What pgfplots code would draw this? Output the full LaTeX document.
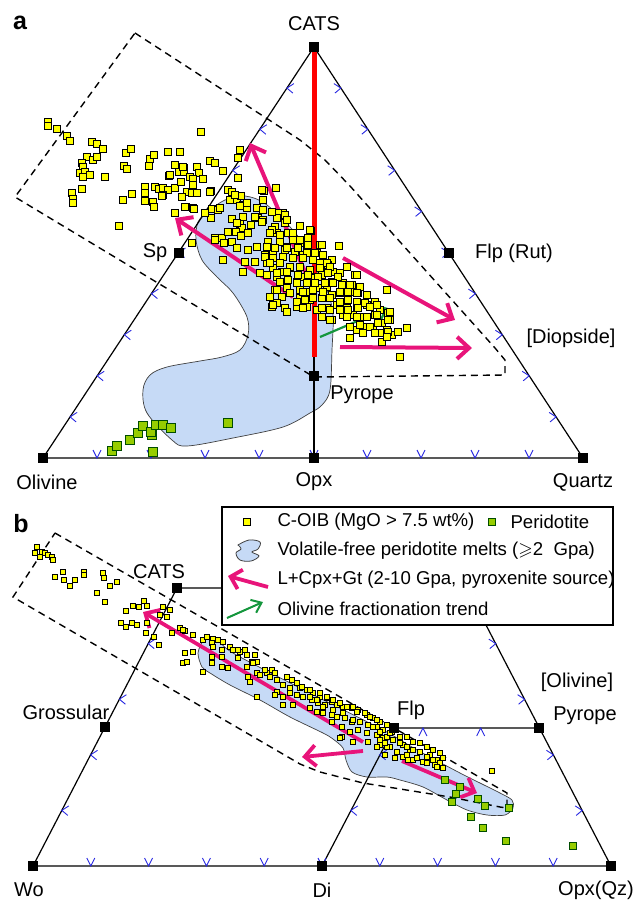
\documentclass[border=0pt]{standalone}
\usepackage{fontspec}
\setmainfont{Liberation Sans}
\usepackage{amssymb}
\usepackage{pgfplots}
\pgfplotsset{compat=1.18}
\usetikzlibrary{arrows.meta}

\definecolor{melt}{RGB}{198,218,246}
\definecolor{pinkarrow}{RGB}{232,20,122}
\definecolor{olgreen}{RGB}{20,150,60}
\definecolor{coib}{RGB}{255,255,0}
\definecolor{perid}{RGB}{150,205,0}
\definecolor{tickblue}{RGB}{40,40,225}

% small chevron ticks along the triangle sides
\pgfdeclareplotmark{tkdown}{\pgfpathmoveto{\pgfpoint{-4pt}{8pt}}\pgfpathlineto{\pgfpoint{0pt}{0pt}}\pgfpathlineto{\pgfpoint{4pt}{8pt}}\pgfusepathqstroke}
\pgfdeclareplotmark{tkup}{\pgfpathmoveto{\pgfpoint{-4pt}{-8pt}}\pgfpathlineto{\pgfpoint{0pt}{0pt}}\pgfpathlineto{\pgfpoint{4pt}{-8pt}}\pgfusepathqstroke}
\pgfdeclareplotmark{tkleft}{\pgfpathmoveto{\pgfpoint{7pt}{4.5pt}}\pgfpathlineto{\pgfpoint{0pt}{0pt}}\pgfpathlineto{\pgfpoint{6pt}{-5pt}}\pgfusepathqstroke}
\pgfdeclareplotmark{tkright}{\pgfpathmoveto{\pgfpoint{-7pt}{4.5pt}}\pgfpathlineto{\pgfpoint{0pt}{0pt}}\pgfpathlineto{\pgfpoint{-6pt}{-5pt}}\pgfusepathqstroke}

\newcommand\lab{\fontsize{20}{24}\selectfont}
\newcommand\leg{\fontsize{18.6}{22}\selectfont}
\newcommand\pan{\fontsize{25}{28}\selectfont\bfseries}

\begin{document}
\begin{tikzpicture}
\useasboundingbox (0,0) rectangle (638pt,900pt);
\begin{axis}[at={(0,0)}, anchor=south west, scale only axis,
  width=638pt, height=900pt, xmin=0, xmax=638, ymin=0, ymax=900,
  y dir=reverse, hide axis, clip=false]

%% ---------------- panel a ----------------
% volatile-free peridotite melt field
\addplot[smooth, tension=0.55, fill=melt, draw=black!75, line width=0.7pt] coordinates {
(207,212) (225,200) (245,196) (267,205) (297,235) (312,262) (327,290) (333,315)
(332,350) (330,390) (322,405) (310,413) (283,427) (233,438) (187,446) (172,440)
(147,413) (143,390) (150,375) (167,367) (200,361) (222,357) (240,350) (248,335)
(247,317) (233,293) (217,277) (202,260) (196,240) (198,222) (207,212)} -- cycle;

% dashed outline
\addplot[black, dashed, dash pattern=on 7pt off 5pt, line width=1.4pt] coordinates {
(135,33) (300,140) (325,160) (350,186) (495,348) (505,360) (505,375) (314,377) (15,197)} -- cycle;

% triangle
\addplot[black, line width=1.2pt] coordinates {(43,458) (314,47) (583,458)} -- cycle;
\addplot[black, line width=1.2pt] coordinates {(314,357) (314,458)};

% ticks
\addplot[only marks, mark=tkleft, tickblue, line width=0.9pt] coordinates {
(70.1,416.9) (97.2,375.8) (124.3,334.7) (151.4,293.6) (178.5,252.5)
(205.6,211.4) (232.7,170.3) (259.8,129.2) (286.9,88.1)};
\addplot[only marks, mark=tkright, tickblue, line width=0.9pt] coordinates {
(556.1,416.9) (529.2,375.8) (502.3,334.7) (475.4,293.6) (448.5,252.5)
(421.6,211.4) (394.7,170.3) (367.8,129.2) (340.9,88.1)};
\addplot[only marks, mark=tkdown, tickblue, line width=0.9pt] coordinates {
(97,458) (151,458) (205,458) (259,458) (314,458) (367,458) (421,458) (475,458) (529,458)};

% CATS--Pyrope join
\addplot[red, line width=5pt] coordinates {(314,47) (314,357)};

% peridotite
\addplot[only marks, mark=square*, mark size=4.5pt, mark options={fill=perid, draw=black!70!green, line width=0.7pt}] coordinates {
(112,451) (117,446) (130,440) (138,433) (143,426) (152,435) (151,432) (156,425)
(163,425) (171,428) (153,452) (228,423)};

% C-OIB
\addplot[only marks, mark=square*, mark size=3.4pt, mark options={fill=coib, draw=black, line width=0.7pt}] coordinates {
(48,122) (48,126) (57,129) (67,136) (70,141) (92,142) (97,144) (103,149)
(87,157) (93,160) (97,157) (82,163) (83,167) (80,173) (85,172) (90,175) (83,177) (105,177)
(72,193) (73,199) (73,203) (82,189) (119,226)
(126,153) (131,149) (124,166) (127,169) (132,194) (123,200)
(150,159) (154,155) (149,166) (168,152) (180,152) (201,132)
(175,165) (184,168) (197,167) (169,176) (179,172) (184,172) (190,177) (199,173) (203,179) (193,179) (170,175) (183,167)
(210,161) (215,163) (223,171) (240,150) (238,158) (238,178)
(145,187) (145,193) (145,201) (155,187) (159,189) (163,188) (168,190) (163,195) (175,188) (181,182) (193,185) (187,192) (192,193) (197,193) (211,191)
(153,202) (154,207) (162,196) (182,197) (186,207) (193,208) (175,213) (185,207) (194,209)
(228,190) (232,192) (237,200) (230,200) (241,196) (243,205) (264,191) (276,188) (263,200) (283,213)
(257,208) (247,208) (212,209) (218,210) (240,206) (263,210) (278,213) (285,215)
(211,218) (232,219) (240,224) (242,228) (251,225) (258,218) (263,220) (277,218) (275,227) (277,233) (285,223) (300,226) (311,231)
(215,238) (222,238) (236,232) (248,233) (241,236) (224,243) (232,242) (268,242) (280,242) (287,247) (297,240) (302,243) (307,247) (321,245) (339,246) (192,243)
(210,192) (205,213) (220,208) (235,195) (247,203) (262,190)
(243,217) (255,217) (237,223) (228,232) (262,222) (272,212) (287,220) (310,230)
(272,230) (288,233) (293,240) (308,245) (320,245)
(248,250) (257,247) (237,248) (223,260) (215,240) (245,262) (255,262) (265,255) (273,252) (285,250) (295,252) (303,255) (317,253) (323,255) (332,260)
(328,265) (320,263) (310,270) (300,267) (290,268) (282,272) (273,268) (267,263) (260,273) (243,272)
(277,277) (288,280) (297,282) (303,277) (313,278) (322,275) (333,272) (340,273) (347,267) (355,275)
(352,285) (343,283) (332,282) (327,287) (318,288) (310,292) (300,290) (287,288) (275,290)
(270,297) (282,297) (290,293) (300,298) (310,300) (322,298) (332,295) (340,293) (350,292) (358,293) (367,295) (360,287) (387,290)
(375,302) (367,305) (357,307) (347,308) (337,305) (327,308) (317,310) (307,307) (297,307) (285,308) (277,303) (272,307) (287,312)
(322,317) (332,320) (343,315) (353,315) (363,317) (375,315) (380,310) (388,313) (390,320) (382,323) (373,327) (363,327) (357,330)
(380,333) (387,330) (392,335) (398,332) (407,328) (382,342) (400,357) (377,305) (390,312) (350,338)
(270,233) (280,235) (293,233) (300,240) (308,238) (322,245) (267,247) (275,248) (287,248) (298,248) (307,253) (315,253)
(265,257) (273,258) (283,257) (293,258) (303,258) (313,260) (327,263) (270,263) (280,263) (290,267) (320,268) (330,267)
(267,275) (277,273) (287,272) (298,275) (308,275) (318,277) (328,273) (338,277) (357,275)
(280,282) (297,283) (307,283) (315,283) (325,283) (333,283) (342,285) (350,285)
(277,290) (303,292) (313,290) (323,292) (340,292) (348,292) (357,293)
(297,302) (305,300) (313,298) (330,298) (340,302) (348,300) (357,302) (365,303)
(273,305) (303,308) (322,308) (330,310) (340,310) (348,310) (358,308) (370,307)
(330,320) (347,317) (357,317) (367,317) (377,315) (350,327) (360,325) (370,327) (378,323) (388,320)
(363,333) (375,333) (388,332) (387,337)};

% trends
\addplot[pinkarrow, line width=4pt, -{Straight Barb[length=12pt, width=22pt]}] coordinates {(293,297) (175,218)};
\addplot[pinkarrow, line width=4pt, -{Straight Barb[length=12pt, width=22pt]}] coordinates {(305,272) (250,143)};
\addplot[pinkarrow, line width=4pt, -{Straight Barb[length=12pt, width=22pt]}] coordinates {(343,258) (455,320)};
\addplot[pinkarrow, line width=4pt, -{Straight Barb[length=12pt, width=22pt]}] coordinates {(340,347) (472,348)};
\addplot[olgreen, line width=2.2pt, -{Straight Barb[length=9pt, width=15pt]}] coordinates {(320,337) (388,308)};

% end-members
\addplot[only marks, mark=square*, mark size=4.5pt, black] coordinates {
(314,47) (178.5,252.5) (448.5,252.5) (43,458) (314,458) (583,458) (314,376)};

%% ---------------- panel b ----------------
\addplot[smooth, tension=0.5, fill=melt, draw=black!75, line width=0.7pt] coordinates {
(203,640) (215,638) (233,653) (300,688) (383,730) (417,750) (460,773) (480,783)
(500,793) (512,800) (513,808) (505,815) (487,815) (467,810) (447,800) (423,787)
(400,780) (387,777) (367,777) (352,772) (346,760) (343,748) (333,739) (323,733)
(290,717) (260,700) (230,685) (210,673) (202,667) (198,653) (203,640)} -- cycle;

\addplot[black, dashed, dash pattern=on 7pt off 5pt, line width=1.4pt] coordinates {
(55,533) (507,793) (507,808) (500,807) (450,797) (363,783) (320,772) (300,764) (13,597)} -- cycle;

\addplot[black, line width=1.2pt] coordinates {(222,588) (177,588) (33,866) (611,866) (486,625)};
\addplot[black, line width=1.2pt] coordinates {(322,866) (394,728) (539,728)};

\addplot[only marks, mark=tkdown, tickblue, line width=0.9pt] coordinates {
(90.8,866) (148.6,866) (206.4,866) (264.2,866) (322,866) (379.8,866) (437.6,866) (495.4,866) (553.2,866)};
\addplot[only marks, mark=tkleft, tickblue, line width=0.9pt] coordinates {
(61.8,810.4) (90.6,754.8) (119.4,699.2) (148.2,643.6) (350.8,810.4) (379.6,754.8)};
\addplot[only marks, mark=tkright, tickblue, line width=0.9pt] coordinates {
(582.2,810.4) (553.4,754.8) (524.6,699.2) (495.8,643.6)};
\addplot[only marks, mark=tkup, tickblue, line width=0.9pt] coordinates {(422.9,728) (480.7,728)};

\addplot[only marks, mark=square*, mark size=3.4pt, mark options={fill=perid, draw=black!70!green, line width=0.7pt}] coordinates {
(445,780) (460,787) (456,794) (452,802) (478,799) (485,806) (509,808) (471,817) (483,828) (506,841) (573,846)};

\addplot[only marks, mark=square*, mark size=2.6pt, mark options={fill=coib, draw=black, line width=0.6pt}] coordinates {
(37,547) (35,553) (40,557) (42,552) (45,553) (48,555) (52,557) (53,560) (55,577) (63,572) (64,580) (70,586) (75,580)
(84,572) (84,575) (103,573) (104,578) (110,586) (117,582) (97,593) (105,602)
(126,611) (133,606) (139,607) (144,601) (147,606) (121,623) (126,627) (132,623) (137,625) (147,623) (146,633) (154,637) (159,645)
(163,607) (170,610) (167,617) (160,615) (172,633) (180,628) (185,631) (193,635) (183,630) (185,653) (193,652) (183,663) (187,662)
(203,640) (207,637) (213,639) (218,640) (223,642) (212,643) (230,647) (233,650) (240,652) (213,647) (212,657) (222,657) (222,650)
(203,672) (212,663) (222,667) (228,668)
(238,650) (245,650) (238,658) (247,655) (252,662) (255,655) (257,662) (247,667) (253,663) (248,677) (257,673) (267,673)
(265,670) (272,670) (275,673) (260,675) (270,677) (277,680) (250,682) (287,677) (292,680) (297,683) (283,685) (290,688)
(300,688) (307,690) (313,693) (320,697) (327,698) (303,697) (297,695) (290,693) (283,697) (277,692) (283,705) (293,705) (257,697) (275,695)
(312,700) (318,703) (325,705) (332,702) (337,705) (343,707) (352,708) (358,710) (367,715) (373,718) (380,722) (387,725)
(310,708) (317,712) (323,713) (332,715) (337,717) (345,718) (352,722) (360,722) (368,725) (377,727) (383,730) (392,732)
(332,722) (342,727) (350,732) (358,730) (367,733) (377,735) (383,738) (393,740) (400,737) (407,737) (413,742) (420,743)
(427,747) (433,750) (440,753) (443,758)
(403,745) (410,750) (420,752) (430,755) (437,760) (342,737) (353,742) (368,742) (380,745) (390,747) (385,755) (403,757)
(413,760) (423,762) (435,765)
(302,687) (310,690) (320,693) (327,697) (333,700) (340,703) (347,707) (353,707) (357,712) (365,713) (370,717) (377,720)
(310,697) (317,700) (323,707) (333,710) (343,713) (353,720) (373,727) (380,732) (387,737) (400,743) (407,747) (413,750)
(427,757) (433,760) (440,763) (443,768)
(390,733) (380,740) (387,747) (397,752) (407,755) (417,758) (427,763) (437,767) (340,738) (395,758) (408,760) (492,771)
(377,747) (385,743)};

\addplot[pinkarrow, line width=3.8pt, -{Straight Barb[length=11pt, width=21pt]}] coordinates {(363,742) (143,612)};
\addplot[pinkarrow, line width=3.8pt, -{Straight Barb[length=11pt, width=21pt]}] coordinates {(363,751) (302,757)};
\addplot[pinkarrow, line width=3.8pt, -{Straight Barb[length=11pt, width=21pt]}] coordinates {(402,761) (477,793)};

\addplot[only marks, mark=square*, mark size=4.5pt, black] coordinates {
(177,588) (105,727) (394,728) (539,728) (33,866) (322,866) (611,866)};

% key
\addplot[black, line width=2pt, fill=white] coordinates {(222,507) (613,507) (613,625) (222,625)} -- cycle;
\addplot[only marks, mark=square*, mark size=3.6pt, mark options={fill=coib, draw=black, line width=0.8pt}] coordinates {(247,522)};
\addplot[only marks, mark=square*, mark size=3.6pt, mark options={fill=perid, draw=black!70!green, line width=0.8pt}] coordinates {(492,522)};
\addplot[smooth, tension=0.6, fill=melt, draw=black!75, line width=0.8pt] coordinates {
(238,545) (249,540) (260,542) (258,549) (252,552) (259,556) (251,561) (240,560) (236,553) (241,549) (238,545)} -- cycle;
\addplot[pinkarrow, line width=3.8pt, -{Straight Barb[length=10pt, width=20pt]}] coordinates {(268,587) (228,576)};
\addplot[olgreen, line width=2pt, -{Straight Barb[length=9pt, width=14pt]}] coordinates {(227,618) (263,602)};

\node[anchor=west, font=\leg] at (axis cs:274,522) {C-OIB (MgO > 7.5 wt\%)};
\node[anchor=west, font=\leg] at (axis cs:507,522) {Peridotite};
\node[anchor=west, font=\leg] at (axis cs:274,551) {Volatile-free peridotite melts ($\geqslant$2~~Gpa)};
\node[anchor=west, font=\leg] at (axis cs:274,580) {L+Cpx+Gt (2-10 Gpa, pyroxenite source)};
\node[anchor=west, font=\leg] at (axis cs:274,609) {Olivine fractionation trend};

%% labels
\node[font=\pan] at (axis cs:20,23) {a};
\node[font=\lab] at (axis cs:314,24) {CATS};
\node[font=\lab] at (axis cs:155,253) {Sp};
\node[font=\lab] at (axis cs:514,253) {Flp (Rut)};
\node[font=\lab] at (axis cs:571,338) {[Diopside]};
\node[font=\lab] at (axis cs:362,395) {Pyrope};
\node[font=\lab] at (axis cs:47,482) {Olivine};
\node[font=\lab] at (axis cs:314,482) {Opx};
\node[font=\lab] at (axis cs:583,482) {Quartz};

\node[font=\pan] at (axis cs:21,524) {b};
\node[font=\lab] at (axis cs:159,572) {CATS};
\node[font=\lab] at (axis cs:66,712) {Grossular};
\node[font=\lab] at (axis cs:411,710) {Flp};
\node[font=\lab] at (axis cs:577,682) {[Olivine]};
\node[font=\lab] at (axis cs:585,716) {Pyrope};
\node[font=\lab] at (axis cs:29,890) {Wo};
\node[font=\lab] at (axis cs:322,890) {Di};
\node[font=\lab] at (axis cs:596,890) {Opx(Qz)};
\end{axis}
\end{tikzpicture}
\end{document}
